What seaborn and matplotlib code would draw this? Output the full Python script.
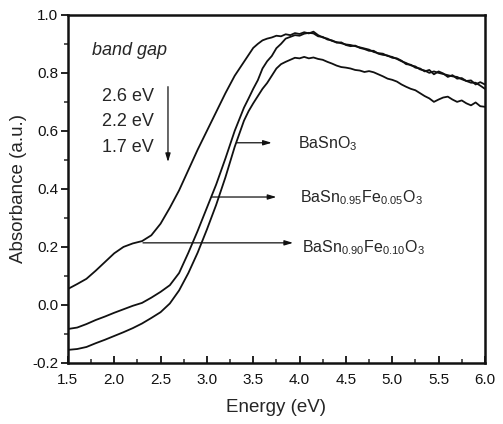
import numpy as np
import pandas as pd
import matplotlib
matplotlib.use("Agg")
import matplotlib.pyplot as plt
import seaborn as sns
from matplotlib.ticker import MultipleLocator

# ---- data ----
energy_low = [1.5, 1.6, 1.7, 1.8, 1.9, 2.0, 2.1, 2.2, 2.3, 2.4, 2.5, 2.6, 2.7, 2.8,
              2.9, 3.0, 3.1, 3.2, 3.3, 3.4, 3.45]
energy_high = [3.5, 3.55, 3.6, 3.65, 3.7, 3.75, 3.8, 3.85, 3.9, 3.95, 4.0, 4.05, 4.1,
               4.15, 4.2, 4.25, 4.3, 4.35, 4.4, 4.45, 4.5, 4.55, 4.6, 4.65, 4.7, 4.75,
               4.8, 4.85, 4.9, 4.95, 5.0, 5.05, 5.1, 5.15, 5.2, 5.25, 5.3, 5.35, 5.4,
               5.45, 5.5, 5.55, 5.6, 5.65, 5.7, 5.75, 5.8, 5.85, 5.9, 5.95, 6.0]

fe10_low = [0.055, 0.072, 0.090, 0.118, 0.148, 0.178, 0.200, 0.212, 0.220, 0.240,
            0.280, 0.335, 0.395, 0.465, 0.535, 0.600, 0.665, 0.730, 0.790, 0.838, 0.862]
fe10_high = [0.886, 0.900, 0.912, 0.918, 0.922, 0.928, 0.926, 0.933, 0.930, 0.937,
             0.934, 0.940, 0.936, 0.942, 0.930, 0.922, 0.918, 0.910, 0.906, 0.902,
             0.898, 0.896, 0.892, 0.888, 0.884, 0.880, 0.872, 0.868, 0.866, 0.858,
             0.855, 0.848, 0.840, 0.834, 0.826, 0.822, 0.812, 0.808, 0.800, 0.805,
             0.800, 0.796, 0.792, 0.788, 0.786, 0.778, 0.772, 0.766, 0.766, 0.756, 0.745]

fe05_low = [-0.083, -0.078, -0.066, -0.052, -0.040, -0.027, -0.015, -0.003, 0.007,
            0.025, 0.045, 0.068, 0.110, 0.180, 0.255, 0.335, 0.415, 0.505, 0.600,
            0.680, 0.712]
fe05_high = [0.745, 0.775, 0.815, 0.840, 0.858, 0.885, 0.900, 0.918, 0.924, 0.930,
             0.928, 0.935, 0.938, 0.936, 0.926, 0.924, 0.915, 0.912, 0.904, 0.905,
             0.896, 0.892, 0.894, 0.886, 0.882, 0.876, 0.876, 0.866, 0.862, 0.860,
             0.852, 0.850, 0.842, 0.830, 0.828, 0.818, 0.815, 0.805, 0.810, 0.795,
             0.805, 0.798, 0.786, 0.792, 0.780, 0.782, 0.772, 0.774, 0.760, 0.768, 0.760]

pure_low = [-0.155, -0.152, -0.145, -0.132, -0.120, -0.107, -0.094, -0.080, -0.064,
            -0.045, -0.025, 0.005, 0.050, 0.110, 0.180, 0.260, 0.345, 0.440, 0.545,
            0.635, 0.668]
pure_high = [0.695, 0.720, 0.745, 0.765, 0.790, 0.815, 0.830, 0.838, 0.845, 0.852,
             0.850, 0.855, 0.850, 0.853, 0.848, 0.845, 0.838, 0.832, 0.825, 0.820,
             0.818, 0.815, 0.810, 0.808, 0.803, 0.806, 0.802, 0.795, 0.788, 0.780,
             0.776, 0.770, 0.760, 0.752, 0.745, 0.740, 0.730, 0.720, 0.712, 0.700,
             0.708, 0.715, 0.718, 0.708, 0.700, 0.705, 0.695, 0.688, 0.698, 0.685, 0.683]

energy = energy_low + energy_high
series = {
    "BaSnO3": pure_low + pure_high,
    "BaSn0.95Fe0.05O3": fe05_low + fe05_high,
    "BaSn0.90Fe0.10O3": fe10_low + fe10_high,
}

band_gaps = ["2.6 eV", "2.2 eV", "1.7 eV"]
sample_labels = [r"BaSnO$_3$",
                 r"BaSn$_{0.95}$Fe$_{0.05}$O$_3$",
                 r"BaSn$_{0.90}$Fe$_{0.10}$O$_3$"]
arrow_start_E = [3.32, 3.05, 2.31]
arrow_y = [0.559, 0.372, 0.214]
arrow_end_E = [3.70, 3.75, 3.93]
label_E = [3.98, 4.00, 4.03]
label_base = [0.541, 0.355, 0.180]

rows = []
for name, vals in series.items():
    for e, a in zip(energy, vals):
        rows.append({"Energy": e, "Absorbance": a, "sample": name})
df = pd.DataFrame(rows)

# ---- style ----
sns.set_style("ticks")
plt.rcParams["font.family"] = ["Liberation Sans", "DejaVu Sans"]
plt.rcParams["mathtext.fontset"] = "custom"
plt.rcParams["mathtext.rm"] = "Liberation Sans"
plt.rcParams["mathtext.it"] = "Liberation Sans:italic"

fig = plt.figure(figsize=(5.03, 4.24), dpi=100)
ax = fig.add_axes([0.135, 0.144, 0.829, 0.821])

sns.lineplot(data=df, x="Energy", y="Absorbance", units="sample", estimator=None,
             color="#111111", linewidth=1.3, ax=ax, sort=False)

ax.set_xlim(1.5, 6.0)
ax.set_ylim(-0.2, 1.0)
ax.xaxis.set_minor_locator(MultipleLocator(0.25))
ax.yaxis.set_minor_locator(MultipleLocator(0.1))
xt = np.arange(1.5, 6.01, 0.5)
yt = np.arange(-0.2, 1.01, 0.2)
ax.set_xticks(xt)
ax.set_xticklabels([f"{v:.1f}" for v in xt])
ax.set_yticks(yt)
ax.set_yticklabels([f"{v:.1f}" if abs(v) > 1e-9 else "0.0" for v in yt])

ax.tick_params(axis="x", which="major", direction="in", length=5, width=1.3,
               labelsize=11, pad=7, colors="#111111")
ax.tick_params(axis="x", which="minor", direction="in", length=3, width=1.1)
ax.tick_params(axis="y", which="major", direction="out", length=5, width=1.3,
               labelsize=11, pad=2, colors="#111111")
ax.tick_params(axis="y", which="minor", direction="out", length=3, width=1.1)

for s in ax.spines.values():
    s.set_visible(True)
    s.set_linewidth(1.8)
    s.set_color("#111111")

ax.set_xlabel("Energy (eV)", fontsize=13.5, labelpad=9)
ax.set_ylabel("Absorbance (a.u.)", fontsize=13.5, labelpad=4)

# band-gap annotation
ax.text(1.76, 0.862, "band gap", fontsize=13, style="italic", ha="left", va="baseline")
for txt, yb in zip(band_gaps, [0.703, 0.617, 0.528]):
    ax.text(1.866, yb, txt, fontsize=13, ha="left", va="baseline")
ax.annotate("", xy=(2.58, 0.483), xytext=(2.58, 0.762),
            arrowprops=dict(arrowstyle="-|>,head_length=0.5,head_width=0.15",
                            color="#111111", lw=0.9))

for x0, y0, x1, lx, lb, lab in zip(arrow_start_E, arrow_y, arrow_end_E,
                                   label_E, label_base, sample_labels):
    ax.annotate("", xy=(x1, y0), xytext=(x0, y0),
                arrowprops=dict(arrowstyle="-|>,head_length=0.5,head_width=0.15",
                                color="#111111", lw=0.9, shrinkA=0, shrinkB=0))
    ax.text(lx, lb, lab, fontsize=11.5, ha="left", va="baseline")

fig.savefig("out.png", dpi=100)
